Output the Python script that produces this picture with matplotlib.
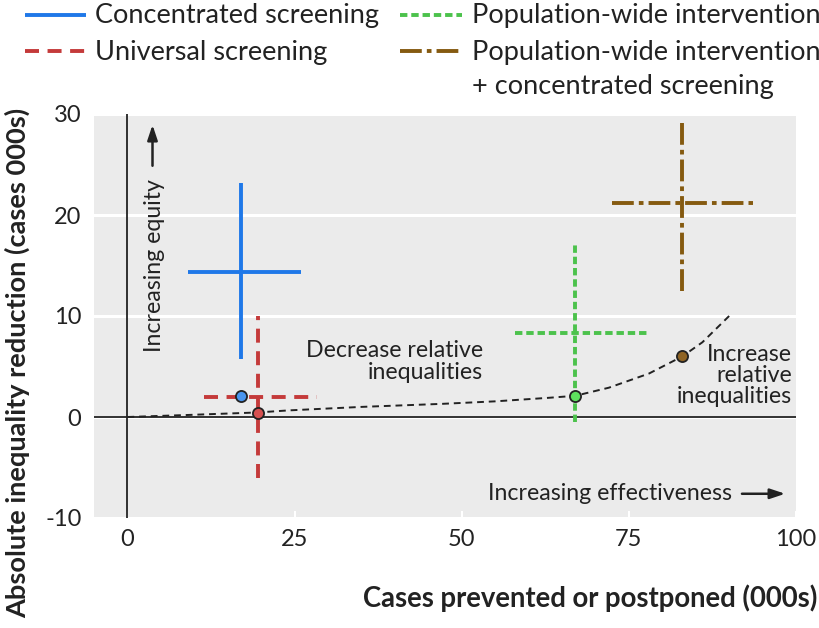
import matplotlib
matplotlib.use("Agg")
import matplotlib.pyplot as plt
from matplotlib.lines import Line2D

plt.rcParams['font.family'] = ['Lato', 'DejaVu Sans']
plt.rcParams['axes.unicode_minus'] = False

# ---- data ----
names = ["Concentrated screening", "Universal screening",
         "Population-wide intervention",
         "Population-wide intervention\n+ concentrated screening"]
cross_x = [17, 19.5, 67, 83]
x_low = [9, 11.5, 58, 72.5]
x_high = [26, 28.3, 78, 93.5]
cross_y = [14.4, 2.0, 8.3, 21.2]
y_low = [5.7, -6, -0.5, 12.5]
y_high = [23.2, 10, 17, 29.5]
point_x = [17, 19.5, 67, 83]
point_y = [2.1, 0.4, 2.1, 6.0]

curve_x = [0, 9, 19.5, 24, 35, 47, 55, 63, 67, 72, 78, 83, 86, 90]
curve_y = [0, 0.2, 0.45, 0.65, 1.0, 1.3, 1.55, 1.9, 2.1, 2.9, 4.3, 6.0, 7.4, 10]

x_ticks = [0, 25, 50, 75, 100]
y_ticks = [-10, 0, 10, 20, 30]

# ---- styles ----
colors = ["#1f78e8", "#c43a3a", "#4cc24c", "#855a10"]
fills = ["#4a95ee", "#d65050", "#5ee05e", "#8f6424"]
dashes = [None, (3.6, 2.2), (1.9, 1.0), (5.6, 1.3, 1.2, 1.3)]
LW = 2.8
TXT = "#222222"
ANN = 16.7

W, H = 820, 628
fig = plt.figure(figsize=(W / 100, H / 100), dpi=100)
ax = fig.add_axes([94 / W, 1 - 518 / H, (796 - 94) / W, (518 - 114) / H])
ax.set_facecolor("#ebebeb")
for s in ax.spines.values():
    s.set_visible(False)
ax.set_xlim(-5, 100)
ax.set_ylim(-10, 30)
ax.set_xticks(x_ticks)
ax.set_yticks(y_ticks)
ax.set_xticklabels([str(v) for v in x_ticks])
ax.set_yticklabels([str(v) for v in y_ticks])
ax.tick_params(axis='x', direction='in', length=5, width=1.5, color='white',
               labelsize=17, labelcolor=TXT, pad=8)
ax.tick_params(axis='y', length=0, labelsize=17, labelcolor=TXT, pad=9)
ax.grid(axis='y', color='white', linewidth=2.2)
ax.set_axisbelow(True)

ax.axhline(0, color=TXT, lw=1.3, zorder=2)
ax.axvline(0, color=TXT, lw=1.3, zorder=2)

# curve
ax.plot(curve_x, curve_y, color=TXT, lw=1.4, dashes=(3.5, 2.5), zorder=3)

def style(line, i):
    if dashes[i] is not None:
        line.set_dashes(dashes[i])
    line.set_dash_capstyle('butt')

for i in range(4):
    l1, = ax.plot([x_low[i], x_high[i]], [cross_y[i], cross_y[i]],
                  color=colors[i], lw=LW, zorder=4, solid_capstyle='butt')
    l2, = ax.plot([cross_x[i], cross_x[i]], [y_low[i], y_high[i]],
                  color=colors[i], lw=LW, zorder=4, solid_capstyle='butt')
    style(l1, i)
    style(l2, i)

for i in range(4):
    ax.plot(point_x[i], point_y[i], 'o', ms=8, mfc=fills[i], mec=TXT,
            mew=1.3, zorder=6)

# annotations
ax.text(53.2, 5.5, "Decrease relative\ninequalities", ha='right', va='center',
        fontsize=ANN, color=TXT, linespacing=1.05)
ax.text(99.4, 4.1, "Increase\nrelative\ninequalities", ha='right', va='center',
        fontsize=ANN, color=TXT, linespacing=1.0)
ax.text(90.4, -7.6, "Increasing effectiveness", ha='right', va='center',
        fontsize=ANN, color=TXT)
ax.annotate("", xy=(98.8, -7.6), xytext=(91.5, -7.6),
            arrowprops=dict(arrowstyle='-|>,head_length=0.9,head_width=0.3',
                            color=TXT, lw=1.8))
ax.text(4.0, 15.0, "Increasing equity", rotation=90, ha='center',
        va='center', fontsize=ANN, color=TXT)
ax.annotate("", xy=(3.75, 29.2), xytext=(3.75, 24.6),
            arrowprops=dict(arrowstyle='-|>,head_length=0.9,head_width=0.3',
                            color=TXT, lw=1.8))

# axis labels
fig.text(17 / W, 1 - 363 / H, "Absolute inequality reduction (cases 000s)",
         rotation=90, ha='center', va='center', fontsize=19.6,
         fontweight='bold', color=TXT)
fig.text(817 / W, 1 - 598 / H, "Cases prevented or postponed (000s)",
         ha='right', va='center', fontsize=19.8, fontweight='bold', color=TXT)

# manual legend
leg_pos = [(25, 86, 95, 15, 23), (25, 86, 95, 51, 60),
           (400, 462, 472, 15, 23), (400, 462, 472, 51, 60)]
LINE_STEP = 34
for i in range(4):
    x0, x1, tx, hy, by = leg_pos[i]
    ln = Line2D([x0 / W, x1 / W], [1 - hy / H, 1 - hy / H],
                transform=fig.transFigure, color=colors[i], lw=LW,
                solid_capstyle='butt')
    style(ln, i)
    fig.add_artist(ln)
    for k, part in enumerate(names[i].split("\n")):
        fig.text(tx / W, 1 - (by + k * LINE_STEP) / H, part, ha='left',
                 va='baseline', fontsize=19.5, color=TXT)

fig.savefig("out.png", dpi=100)
